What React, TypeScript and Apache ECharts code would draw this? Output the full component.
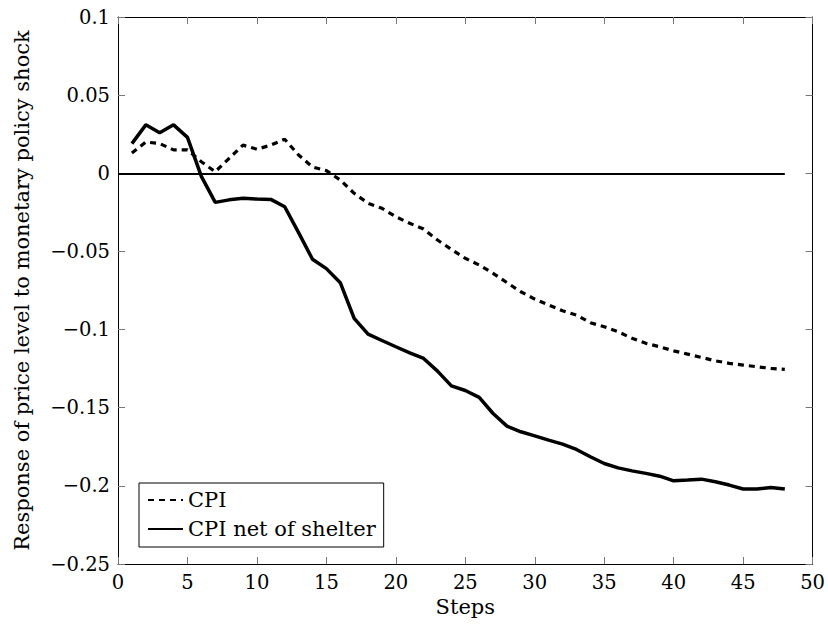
import React, { useEffect, useRef } from "react";
import * as echarts from "echarts";

const steps: number[] = Array.from({ length: 48 }, (_, i) => i + 1);

const cpi: number[] = [
  0.013, 0.02, 0.019, 0.015, 0.015, 0.0074, 0.001, 0.0096, 0.018, 0.0154,
  0.018, 0.0218, 0.0117, 0.004, 0.0017, -0.0043, -0.0128, -0.0192, -0.0224, -0.0278,
  -0.032, -0.0357, -0.0427, -0.0487, -0.0544, -0.0587, -0.064, -0.07, -0.0758, -0.0805,
  -0.0843, -0.088, -0.0907, -0.0956, -0.0982, -0.1014, -0.1056, -0.1088, -0.111, -0.1136,
  -0.1157, -0.1178, -0.12, -0.1216, -0.1227, -0.1238, -0.1248, -0.1255,
];

const cpiNetShelter: number[] = [
  0.019, 0.031, 0.026, 0.031, 0.023, -0.002, -0.0186, -0.017, -0.016, -0.0165,
  -0.0167, -0.0214, -0.038, -0.055, -0.061, -0.07, -0.0928, -0.1029, -0.107, -0.111,
  -0.1149, -0.1185, -0.1266, -0.136, -0.139, -0.1434, -0.1537, -0.1618, -0.1654, -0.168,
  -0.1707, -0.1733, -0.1767, -0.1814, -0.1857, -0.1885, -0.1904, -0.192, -0.1938, -0.1968,
  -0.1963, -0.1957, -0.1974, -0.1995, -0.202, -0.202, -0.201, -0.202,
];

const zeroLineStart = 0;
const zeroLineEnd = 48;

const FONT = "DejaVu Serif";

function fmt(v: number): string {
  const r = Number(v.toFixed(4));
  if (r < 0) return "\u2212" + String(-r);
  return String(r);
}

export default function App() {
  const ref = useRef<HTMLDivElement>(null);
  useEffect(() => {
    document.body.style.margin = "0";
    if (!ref.current) return;
    const chart = echarts.init(ref.current, undefined, { renderer: "svg" });
    const tickStyle = { show: true, inside: true, length: 7, lineStyle: { color: "#777", width: 1 } };
    const axisLine = { show: true, onZero: false, lineStyle: { color: "#000", width: 1 } };
    chart.setOption({
      animation: false,
      backgroundColor: "#fff",
      textStyle: { fontFamily: FONT },
      grid: { left: 118, right: 15, top: 17, bottom: 67, containLabel: false },
      legend: {
        show: true,
        orient: "vertical",
        left: 139,
        top: 483,
        data: ["CPI", "CPI net of shelter"],
        itemWidth: 35,
        itemHeight: 12,
        itemGap: 5,
        padding: [5, 8, 6, 8],
        borderColor: "#000",
        borderWidth: 1,
        backgroundColor: "#fff",
        itemStyle: { opacity: 0 },
        textStyle: { fontFamily: FONT, fontSize: 21, color: "#000", lineHeight: 24 },
      },
      xAxis: [
        {
          type: "value",
          min: 0,
          max: 50,
          interval: 5,
          name: "Steps",
          nameLocation: "middle",
          nameGap: 32,
          nameTextStyle: { fontFamily: FONT, fontSize: 21, color: "#000" },
          axisLine,
          axisTick: tickStyle,
          axisLabel: { fontFamily: FONT, fontSize: 19.5, color: "#000", margin: 8 },
          splitLine: { show: false },
        },
        {
          type: "value",
          min: 0,
          max: 50,
          interval: 5,
          position: "top",
          axisLine,
          axisTick: tickStyle,
          axisLabel: { show: false },
          splitLine: { show: false },
        },
      ],
      yAxis: [
        {
          type: "value",
          min: -0.25,
          max: 0.1,
          interval: 0.05,
          name: "Response of price level to monetary policy shock",
          nameLocation: "middle",
          nameGap: 86,
          nameTextStyle: { fontFamily: FONT, fontSize: 21, color: "#000" },
          axisLine,
          axisTick: tickStyle,
          axisLabel: { fontFamily: FONT, fontSize: 19.5, color: "#000", margin: 8, formatter: fmt },
          splitLine: { show: false },
        },
        {
          type: "value",
          min: -0.25,
          max: 0.1,
          interval: 0.05,
          position: "right",
          axisLine,
          axisTick: tickStyle,
          axisLabel: { show: false },
          splitLine: { show: false },
        },
      ],
      series: [
        {
          name: "CPI",
          type: "line",
          data: steps.map((s, i) => [s, cpi[i]]),
          symbol: "none",
          lineStyle: { color: "#000", width: 3.2, type: [6, 5], cap: "butt" },
          itemStyle: { color: "#000" },
          markLine: {
            silent: true,
            symbol: "none",
            label: { show: false },
            lineStyle: { color: "#000", width: 2, type: "solid" },
            data: [[{ coord: [zeroLineStart, 0] }, { coord: [zeroLineEnd, 0] }]],
          },
          z: 3,
        },
        {
          name: "CPI net of shelter",
          type: "line",
          data: steps.map((s, i) => [s, cpiNetShelter[i]]),
          symbol: "none",
          lineStyle: { color: "#000", width: 3.5, type: "solid" },
          itemStyle: { color: "#000" },
          z: 4,
        },
      ],
    });
    return () => chart.dispose();
  }, []);
  return <div ref={ref} style={{ width: 828, height: 631 }} />;
}
